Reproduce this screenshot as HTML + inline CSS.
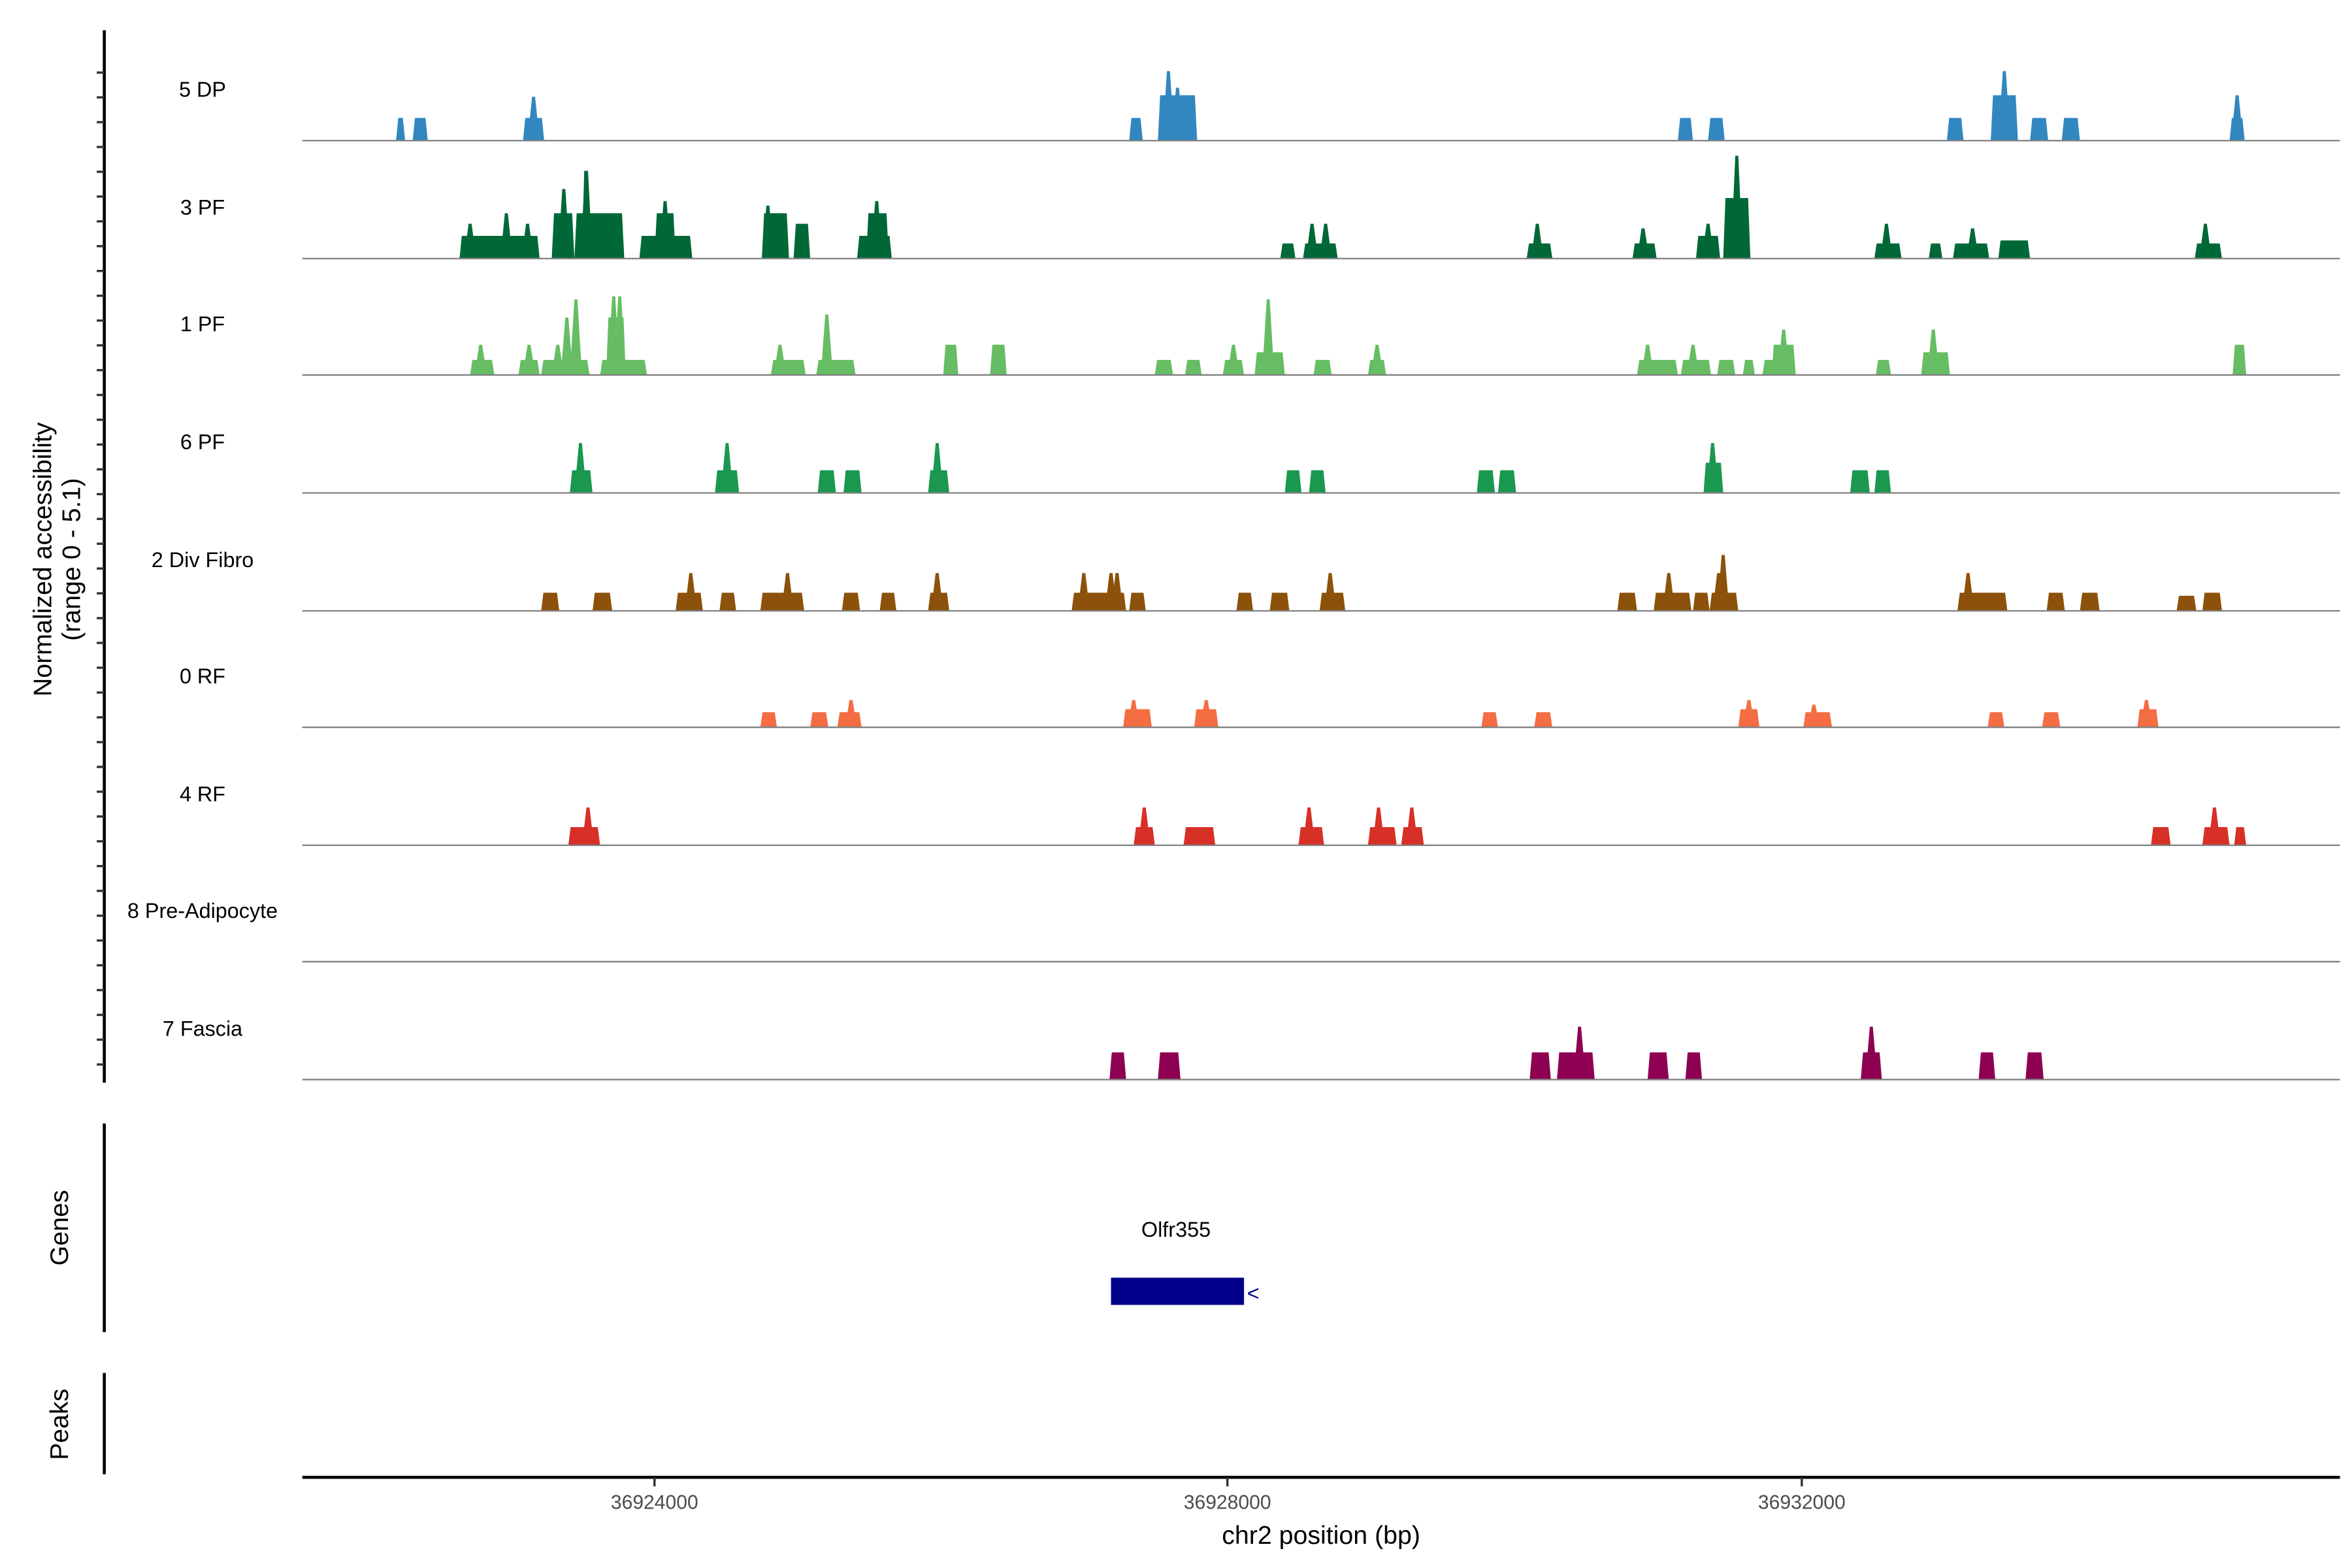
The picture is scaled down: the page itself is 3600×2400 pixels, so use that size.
<!DOCTYPE html>
<html><head><meta charset="utf-8"><style>
html,body{margin:0;padding:0;background:#fff}
svg{display:block}
text{font-family:"Liberation Sans",Arial,sans-serif}
</style></head><body>
<svg id="s" width="3600" height="2400" viewBox="0 0 1556 1037" preserveAspectRatio="none" xmlns="http://www.w3.org/2000/svg">
<rect width="1556" height="1037" fill="#fff"/>
<g id="tracks"></g>
<g font-size="14" fill="#000" text-anchor="middle">
<text x="134" y="64">5 DP</text>
<text x="134" y="142">3 PF</text>
<text x="134" y="219">1 PF</text>
<text x="134" y="297">6 PF</text>
<text x="134" y="375">2 Div Fibro</text>
<text x="134" y="452">0 RF</text>
<text x="134" y="530">4 RF</text>
<text x="134" y="607">8 Pre-Adipocyte</text>
<text x="134" y="685">7 Fascia</text>
</g>
<line x1="69" y1="20" x2="69" y2="716" stroke="#000" stroke-width="2"/>
<g id="ticks" stroke="#333" stroke-width="1.5"></g>
<text transform="translate(34,370) rotate(-90)" font-size="17" text-anchor="middle">Normalized accessibility</text>
<text transform="translate(53,370) rotate(-90)" font-size="17" text-anchor="middle">(range 0 - 5.1)</text>
<line x1="69" y1="743" x2="69" y2="881" stroke="#000" stroke-width="2"/>
<text transform="translate(45,812) rotate(-90)" font-size="17" text-anchor="middle">Genes</text>
<text x="778" y="818" font-size="14" text-anchor="middle">Olfr355</text>
<rect x="735" y="845" width="88" height="18" fill="#00008b"/>
<text x="825" y="860" font-size="14" fill="#00008b">&lt;</text>
<line x1="69" y1="908" x2="69" y2="975" stroke="#000" stroke-width="2"/>
<text transform="translate(45,942) rotate(-90)" font-size="17" text-anchor="middle">Peaks</text>
<line x1="200" y1="977" x2="1548" y2="977" stroke="#000" stroke-width="2"/>
<g stroke="#333" stroke-width="1.5"><line x1="433" y1="977" x2="433" y2="983"/><line x1="812" y1="977" x2="812" y2="983"/><line x1="1192" y1="977" x2="1192" y2="983"/></g>
<g font-size="13" fill="#4d4d4d" text-anchor="middle">
<text x="433" y="998">36924000</text><text x="812" y="998">36928000</text><text x="1192" y="998">36932000</text>
</g>
<text x="874" y="1021" font-size="17" text-anchor="middle">chr2 position (bp)</text>
</svg>
<script>
var T=[
[93,"#3387c0",[[262,268,15],[273,283,15],[346,360,15,[[353,29]]],[747,756,15],[766,792,30,[[773,46],[779,35]]],[1110,1120,15],[1130,1141,15],[1288,1299,15],[1317,1335,30,[[1326,46]]],[1343,1355,15],[1364,1376,15],[1475,1485,15,[[1480,30]]]]],
[171,"#006837",[[304,357,15,[[311,23],[335,30],[349,23]]],[365,380,30,[[373,46]]],[380,413,30,[[388,58]]],[385,390,58],[423,458,15],[433,447,30,[[440,38]]],[504,522,30,[[508,35]]],[525,536,23],[567,590,15],[573,588,30,[[580,38]]],[847,857,10],[862,885,10,[[868,23],[877,23]]],[1010,1027,10,[[1017,23]]],[1080,1096,10,[[1087,20]]],[1122,1138,15,[[1130,23]]],[1140,1158,40,[[1149,68]]],[1240,1258,10,[[1248,23]]],[1276,1285,10],[1292,1316,10,[[1305,20]]],[1322,1343,12],[1452,1470,10,[[1459,23]]]]],
[248,"#66bd63",[[311,327,10,[[318,20]]],[343,357,10,[[350,20]]],[358,390,10,[[375,38],[381,50],[369,20]]],[397,428,10],[401,414,38,[[406,52],[410,52]]],[510,533,10,[[516,20]]],[540,566,10,[[547,40]]],[624,634,20],[655,666,20],[764,776,10],[784,795,10],[809,823,10,[[816,20]]],[830,850,15,[[839,50]]],[869,881,10],[905,917,10,[[911,20]]],[1083,1110,10,[[1090,20]]],[1112,1132,10,[[1120,20]]],[1136,1148,10],[1153,1161,10],[1166,1176,10],[1172,1188,20,[[1180,30]]],[1241,1251,10],[1271,1290,15,[[1279,30]]],[1477,1486,20]]],
[326,"#1a9850",[[377,392,15,[[384,33]]],[473,489,15,[[481,33]]],[541,553,15],[558,570,15],[614,628,15,[[620,33]]],[850,861,15],[866,877,15],[977,989,15],[991,1003,15],[1127,1140,20,[[1133,33]]],[1224,1237,15],[1240,1251,15]]],
[404,"#8c510a",[[358,370,12],[392,405,12],[447,465,12,[[457,25]]],[476,487,12],[503,532,12,[[521,25]]],[557,569,12],[582,593,12],[614,628,12,[[620,25]]],[709,745,12,[[717,25],[735,25],[739,25]]],[747,758,12],[818,829,12],[840,853,12],[873,890,12,[[880,25]]],[1070,1083,12],[1094,1119,12,[[1104,25]]],[1120,1131,12],[1131,1150,12,[[1137,25],[1140,37]]],[1295,1328,12,[[1302,25]]],[1354,1366,12],[1376,1389,12],[1440,1453,10],[1457,1470,12]]],
[481,"#f46d43",[[503,514,10],[536,548,10],[554,570,10,[[563,18]]],[743,762,12,[[750,18]]],[790,806,12,[[798,18]]],[980,991,10],[1015,1027,10],[1150,1164,12,[[1157,18]]],[1193,1212,10,[[1200,15]]],[1315,1326,10],[1351,1363,10],[1414,1428,12,[[1420,18]]]]],
[559,"#d73027",[[376,397,12,[[389,25]]],[750,764,12,[[757,25]]],[783,804,12],[859,876,12,[[866,25]]],[905,924,12,[[912,25]]],[927,942,12,[[934,25]]],[1423,1436,12],[1457,1475,12,[[1465,25]]],[1478,1486,12]]],
[636,"#999",[]],
[714,"#8e0152",[[734,745,18],[766,781,18],[1012,1026,18],[1030,1055,18,[[1045,35]]],[1090,1104,18],[1115,1126,18],[1231,1245,18,[[1238,35]]],[1309,1320,18],[1340,1352,18]]]
];
var s="";
T.forEach(function(t){var b=t[0],c=t[1];
t[2].forEach(function(p){var x1=p[0],x2=p[1],h=p[2];
s+='<polygon fill="'+c+'" points="'+x1+','+b+' '+(x1+1.5)+','+(b-h)+' '+(x2-1.5)+','+(b-h)+' '+x2+','+b+'"/>';
(p[3]||[]).forEach(function(k){s+='<polygon fill="'+c+'" points="'+(k[0]-4)+','+b+' '+(k[0]-1)+','+(b-k[1])+' '+(k[0]+1)+','+(b-k[1])+' '+(k[0]+4)+','+b+'"/>';});
});
s+='<line x1="200" y1="'+b+'" x2="1548" y2="'+b+'" stroke="#808080" stroke-width="1"/>';
});
document.getElementById("tracks").innerHTML=s;
var k="";for(var y=48;y<716;y+=16.4){k+='<line x1="64" y1="'+y.toFixed(1)+'" x2="69" y2="'+y.toFixed(1)+'"/>';}
document.getElementById("ticks").innerHTML=k;
</script>
</body></html>
